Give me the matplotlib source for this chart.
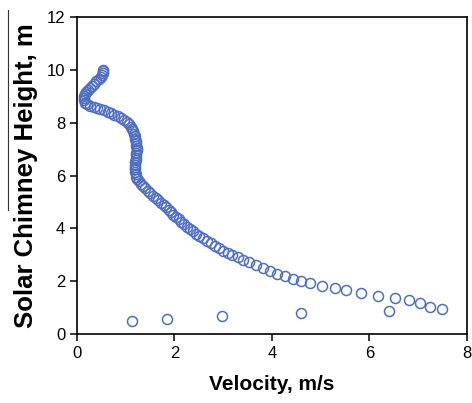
import matplotlib
matplotlib.use("Agg")
import matplotlib.pyplot as plt
from matplotlib.lines import Line2D

plt.rcParams['font.family'] = ['Liberation Sans', 'DejaVu Sans']

# velocity profile along the chimney (m/s, m)
velocity = [
    7.49, 7.24, 7.04, 6.81, 6.52, 6.17, 5.83, 5.53, 5.29, 5.03,
    4.79, 4.59, 4.43, 4.26, 4.11, 3.97, 3.82, 3.67, 3.53, 3.41,
    3.30, 3.19, 3.09, 3.00, 2.91, 2.83, 2.75, 2.66, 2.58, 2.51,
    2.45, 2.38, 2.32, 2.26, 2.20, 2.14, 2.09, 2.03, 1.98, 1.93,
    1.88, 1.83, 1.78, 1.73, 1.67, 1.62, 1.56, 1.50, 1.45, 1.40,
    1.35, 1.31, 1.27, 1.24, 1.22, 1.21, 1.20, 1.20, 1.20, 1.20,
    1.20, 1.21, 1.22, 1.22, 1.22, 1.23, 1.23, 1.22, 1.22, 1.21,
    1.20, 1.19, 1.18, 1.16, 1.14, 1.11, 1.07, 1.02, 0.97, 0.91,
    0.84, 0.77, 0.70, 0.63, 0.55, 0.48, 0.41, 0.34, 0.27, 0.21,
    0.17, 0.15, 0.15, 0.15, 0.17, 0.19, 0.22, 0.26, 0.30, 0.35,
    0.40, 0.45, 0.49, 0.52, 0.53, 0.54, 0.54,
]
height = [
    0.96, 1.03, 1.19, 1.29, 1.38, 1.45, 1.55, 1.65, 1.73, 1.82,
    1.92, 2.01, 2.10, 2.19, 2.27, 2.40, 2.51, 2.61, 2.72, 2.80,
    2.90, 2.99, 3.08, 3.16, 3.25, 3.33, 3.43, 3.53, 3.62, 3.71,
    3.80, 3.89, 3.98, 4.07, 4.16, 4.25, 4.34, 4.43, 4.52, 4.61,
    4.70, 4.79, 4.88, 4.97, 5.06, 5.15, 5.24, 5.33, 5.42, 5.51,
    5.60, 5.69, 5.78, 5.87, 5.96, 6.05, 6.14, 6.23, 6.32, 6.41,
    6.50, 6.59, 6.68, 6.77, 6.86, 6.95, 7.04, 7.13, 7.22, 7.31,
    7.40, 7.49, 7.58, 7.67, 7.76, 7.85, 7.94, 8.02, 8.10, 8.17,
    8.24, 8.30, 8.36, 8.42, 8.47, 8.52, 8.56, 8.60, 8.64, 8.69,
    8.76, 8.84, 8.92, 9.00, 9.08, 9.16, 9.24, 9.32, 9.40, 9.48,
    9.56, 9.64, 9.72, 9.80, 9.88, 9.95, 10.00,
]

# separate points near the base
base_velocity = [1.14, 1.85, 2.97, 4.59, 6.41]
base_height = [0.49, 0.58, 0.68, 0.78, 0.86]

fig = plt.figure(figsize=(4.72, 4.03), dpi=100)
ax = fig.add_axes([0.163, 0.171, 0.826, 0.787])

marker_color = '#4f6ec2'
ax.plot(velocity, height, 'o', mfc='none', mec=marker_color, ms=7.2, mew=1.1)
ax.plot(base_velocity, base_height, 'o', mfc='none', mec=marker_color, ms=7.2, mew=1.1)

ax.set_xlim(0, 8)
ax.set_ylim(0, 12)
ax.set_xticks([0, 2, 4, 6, 8])
ax.set_yticks([0, 2, 4, 6, 8, 10, 12])
ax.tick_params(direction='out', length=5, width=1.1, labelsize=12, colors='black')
for s in ax.spines.values():
    s.set_linewidth(1.2)

ax.set_xlabel('Velocity, m/s', fontsize=15, fontweight='bold', labelpad=10)
ax.set_ylabel('Solar Chimney Height, m', fontsize=18.5, fontweight='bold', labelpad=6)

# thin edge line left over from the neighbouring panel
fig.add_artist(Line2D([0.017, 0.017], [0.48, 0.975], color='#333333', lw=0.8))

fig.savefig('out.png', dpi=100)
